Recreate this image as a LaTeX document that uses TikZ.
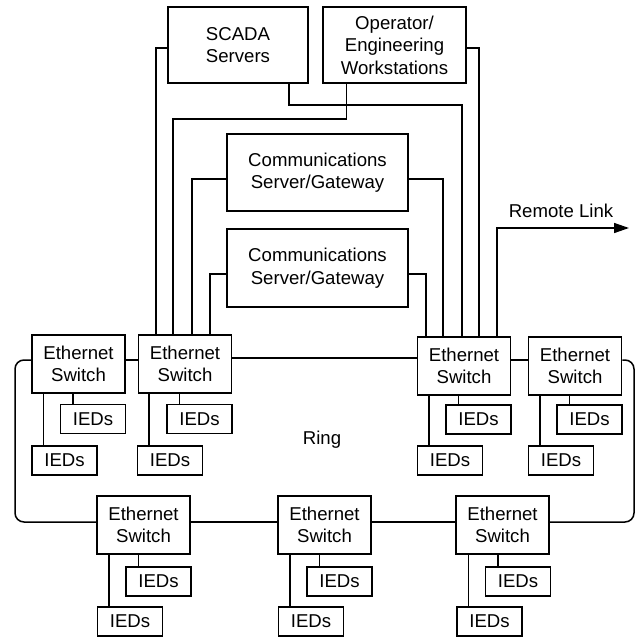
\documentclass[tikz,border=0pt]{standalone}
\usepackage{fontspec}
\setmainfont{Liberation Sans}
\usetikzlibrary{arrows.meta}
\begin{document}
\begin{tikzpicture}[x=1pt,y=-1pt,line width=1.5pt,
  font=\fontsize{18.6}{22.5}\selectfont,
  box/.style={draw,line width=1.5pt,align=center,inner sep=0pt},
  swbox/.style={box,minimum width=93pt,minimum height=58pt},
  iedbox/.style={box,minimum width=65pt,minimum height=29pt},
  lbl/.style={inner sep=0pt}]
\useasboundingbox (0,0) rectangle (637,640);

% top boxes
\node[box,minimum width=140pt,minimum height=76pt] (scada) at (238,45) {SCADA\\Servers};
\node[box,minimum width=143pt,minimum height=76pt] (ops) at (394.5,45) {Operator/\\Engineering\\Workstations};
\node[box,minimum width=181pt,minimum height=77pt] (comm1) at (317.5,172.5) {Communications\\Server/Gateway};
\node[box,minimum width=181pt,minimum height=78pt] (comm2) at (317.5,268) {Communications\\Server/Gateway};

% switches
\node[swbox] (swL1) at (78.5,364) {Ethernet\\Switch};
\node[swbox] (swL2) at (185,364) {Ethernet\\Switch};
\node[swbox] (swR1) at (464,366) {Ethernet\\Switch};
\node[swbox] (swR2) at (575,366) {Ethernet\\Switch};
\node[swbox] (swB1) at (143.5,525) {Ethernet\\Switch};
\node[swbox] (swB2) at (324.5,525) {Ethernet\\Switch};
\node[swbox] (swB3) at (502.5,525) {Ethernet\\Switch};

% IEDs
\node[iedbox] (iL1u) at (93,419) {IEDs};
\node[iedbox] (iL1l) at (64.5,460.5) {IEDs};
\node[iedbox] (iL2u) at (199.5,419) {IEDs};
\node[iedbox] (iL2l) at (170,460.5) {IEDs};
\node[iedbox] (iR1u) at (478.5,419.5) {IEDs};
\node[iedbox] (iR1l) at (450,460.5) {IEDs};
\node[iedbox] (iR2u) at (589.5,419.5) {IEDs};
\node[iedbox] (iR2l) at (561,460.5) {IEDs};
\node[iedbox] (iB1u) at (158.5,581.5) {IEDs};
\node[iedbox] (iB1l) at (130,621.5) {IEDs};
\node[iedbox] (iB2u) at (339.5,581.5) {IEDs};
\node[iedbox] (iB2l) at (311,621.5) {IEDs};
\node[iedbox] (iB3u) at (518,581.5) {IEDs};
\node[iedbox] (iB3l) at (489.5,621.5) {IEDs};

% IED drops
\foreach \s/\u/\l in {swL1/iL1u/iL1l, swL2/iL2u/iL2l, swR1/iR1u/iR1l, swR2/iR2u/iR2l, swB1/iB1u/iB1l, swB2/iB2u/iB2l, swB3/iB3u/iB3l}{
  \path (\u.north west) ++(13,0) coordinate (du);
  \path (\l.north west) ++(12,0) coordinate (dl);
  \draw (du) -- (du |- \s.south);
  \draw (dl) -- (dl |- \s.south);
}

% labels
\node[lbl] (ring) at (322,440) {Ring};
\node[lbl] (rl) at (561,211) {Remote Link};

% ring
\coordinate (rLt) at (15,360);
\coordinate (rLb) at (15,522);
\coordinate (rRt) at (634,360);
\coordinate (rRb) at (634,522);
\draw[rounded corners=9pt] ([yshift=4pt]swL1.west) -- (rLt) -- (rLb) -- ([yshift=3pt]swB1.west);
\draw[rounded corners=9pt] ([yshift=6pt]swR2.east) -- (rRt) -- (rRb) -- ([yshift=3pt]swB3.east);
\draw ([yshift=4pt]swL1.east) -- ([yshift=4pt]swL2.west);
\draw ([yshift=6pt]swL2.east) -- ([yshift=8pt]swR1.west);
\draw ([yshift=6pt]swR1.east) -- ([yshift=6pt]swR2.west);
\draw ([yshift=3pt]swB1.east) -- ([yshift=3pt]swB2.west);
\draw ([yshift=3pt]swB2.east) -- ([yshift=3pt]swB3.west);

% uplink attachment points
\path (swL2.north west) ++(18,0) coordinate (l2a) ++(17,0) coordinate (l2b) ++(19,0) coordinate (l2c) ++(18,0) coordinate (l2d);
\path (swR1.north west) ++(9,0) coordinate (r1a) ++(17,0) coordinate (r1b) ++(19,0) coordinate (r1c) ++(17,0) coordinate (r1d) ++(18,0) coordinate (r1e);

% top connections
\draw ([yshift=-3pt]scada.west) -| (l2a);
\path (scada.south east) ++(-20,0) coordinate (sc1);
\draw (sc1) -- ++(0,21) -| (r1c);
\path (ops.south west) ++(24,0) coordinate (op1);
\draw (op1) -- ++(0,35) -| (l2b);
\draw ([yshift=-3pt]ops.east) -| (r1d);
\draw ([yshift=-6.5pt]comm1.west) -| (l2c);
\draw ([yshift=-6.5pt]comm1.east) -| (r1b);
\draw ([yshift=-6pt]comm2.west) -| (l2d);
\draw ([yshift=-6pt]comm2.east) -| (r1a);

% remote link
\coordinate (rtip) at (629,228);
\draw[-{Triangle[length=15pt,width=10pt]}] (r1e) |- (rtip);
\end{tikzpicture}
\end{document}
